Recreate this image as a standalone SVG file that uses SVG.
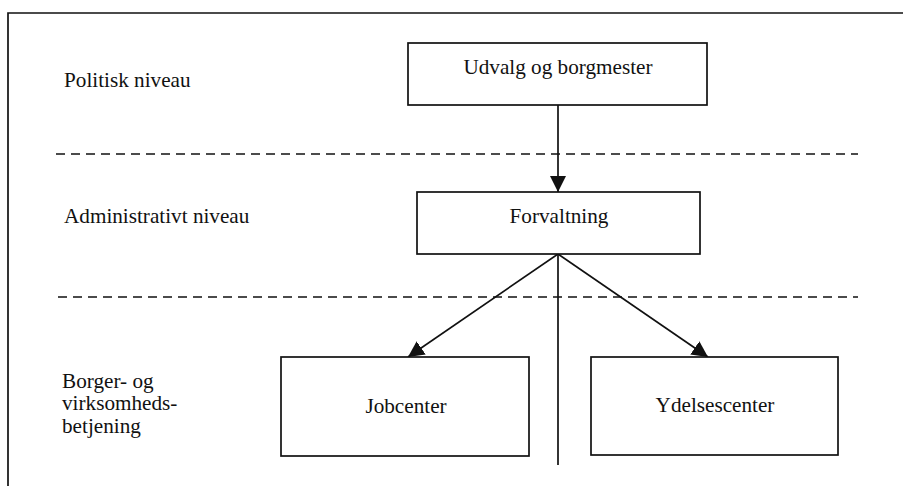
<svg xmlns="http://www.w3.org/2000/svg" width="903" height="486" viewBox="0 0 903 486">
<style>
.box{fill:#fff;stroke:#111;stroke-width:1.7}
.t{font-family:"Liberation Serif","Times New Roman",serif;font-size:21.2px;fill:#111}
.c{text-anchor:middle}
.dash{stroke:#111;stroke-width:1.6;stroke-dasharray:9,6;fill:none}
.ln{stroke:#111;stroke-width:1.7;fill:none}
</style>
<defs>
<marker id="ah" viewBox="0 0 10 10" refX="10" refY="5" markerWidth="16" markerHeight="16" markerUnits="userSpaceOnUse" orient="auto">
<path d="M0,0 L10,5 L0,10 z" fill="#111"/>
</marker>
</defs>
<rect width="903" height="486" fill="#fff"/>
<g id="frame">
<path d="M8,486 L8,13 L903,13" class="ln" stroke-width="2"/>
</g>
<g id="separators">
<line x1="56" y1="154" x2="858" y2="154" class="dash"/>
<line x1="58" y1="297" x2="858" y2="297" class="dash"/>
</g>
<g id="level-labels">
<text class="t" x="64" y="87">Politisk niveau</text>
<text class="t" x="64" y="223">Administrativt niveau</text>
<text class="t" x="62" y="388">Borger- og</text>
<text class="t" x="62" y="410">virksomheds-</text>
<text class="t" x="62" y="433">betjening</text>
</g>
<g id="connectors">
<line x1="558" y1="105" x2="558" y2="192" class="ln" marker-end="url(#ah)"/>
<line x1="558" y1="254" x2="408" y2="357" class="ln" marker-end="url(#ah)"/>
<line x1="558" y1="254" x2="708" y2="357" class="ln" marker-end="url(#ah)"/>
<line x1="558" y1="254" x2="558" y2="465" class="ln"/>
</g>
<g id="node-udvalg">
<rect class="box" x="408" y="43" width="299" height="62"/>
<text class="t c" x="558" y="74">Udvalg og borgmester</text>
</g>
<g id="node-forvaltning">
<rect class="box" x="417" y="192" width="283" height="62"/>
<text class="t c" x="559" y="223">Forvaltning</text>
</g>
<g id="node-jobcenter">
<rect class="box" x="281" y="357" width="248" height="99"/>
<text class="t c" x="406" y="413">Jobcenter</text>
</g>
<g id="node-ydelsescenter">
<rect class="box" x="591" y="357" width="247" height="98"/>
<text class="t c" x="715" y="412">Ydelsescenter</text>
</g>
</svg>
